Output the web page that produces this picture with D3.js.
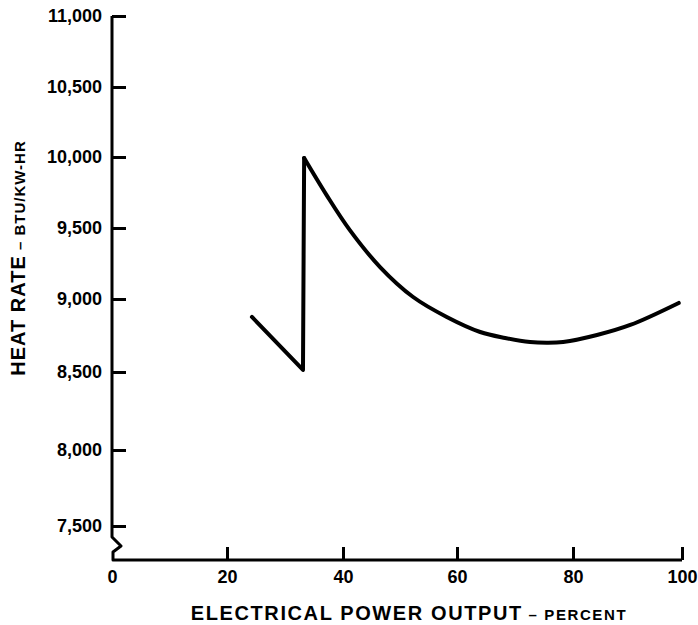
<!DOCTYPE html>
<html>
<head>
<meta charset="utf-8">
<script src="https://cdn.jsdelivr.net/npm/d3@7"></script>
<style>
  body { margin: 0; background: #fff; }
  svg text { font-family: "Liberation Sans", Arial, sans-serif; font-weight: bold; fill: #000; }
</style>
</head>
<body>
<div id="chart"></div>
<script>
// heat rate vs electrical power output
var powerPct = [24.3, 33.1, 33.3, 37.2, 41.2, 46.5, 52.3, 58.2, 64.0, 68.3, 72.6, 75.5, 78.3, 84.4, 90.5, 99.4];
var heatRate = [8877, 8514, 9993, 9730, 9485, 9225, 9014, 8877, 8774, 8733, 8705, 8700, 8705, 8753, 8822, 8973];
// first three points = straight low-load leg and the jump, the rest is the smooth curve
var peakIndex = 2;

var xTicks = [0, 20, 40, 60, 80, 100];
var yTicks = [7500, 8000, 8500, 9000, 9500, 10000, 10500, 11000];

var width = 698, height = 625;

var svg = d3.select('#chart')
  .append('svg')
    .attr('width', width)
    .attr('height', height);

// the scanned grid is not quite even, so each tick gets its own stop
var x = d3.scaleLinear().domain(xTicks).range([112, 227, 343, 457, 573, 682]);
var y = d3.scaleLinear().domain(yTicks).range([526, 450, 372, 299, 228, 157, 87, 16]);
var axisY = 560; // x axis sits below the axis break

// y axis ticks + labels
var yAxis = svg.append('g')
  .attr('transform', 'translate(' + x(0) + ',0)')
  .call(d3.axisLeft(y)
    .tickValues(yTicks)
    .tickFormat(d3.format(','))
    .tickSizeInner(-14)
    .tickSizeOuter(0)
    .tickPadding(10));
yAxis.select('.domain').remove();
yAxis.selectAll('line').attr('stroke', '#000').attr('stroke-width', 3);
yAxis.selectAll('text').style('font-size', '18px');

// x axis ticks + labels
var xAxis = svg.append('g')
  .attr('transform', 'translate(0,' + axisY + ')')
  .call(d3.axisBottom(x)
    .tickValues(xTicks)
    .tickSizeInner(-13)
    .tickSizeOuter(0)
    .tickPadding(10));
xAxis.select('.domain').remove();
xAxis.selectAll('line').attr('stroke', '#000').attr('stroke-width', 3);
xAxis.selectAll('.tick').filter(function(d) { return d === 0; }).select('line').remove();
xAxis.selectAll('text').style('font-size', '18px');

// axis frame with the zigzag break at the bottom of the y axis
var x0 = x(0), breakTop = axisY - 23;
var frame = d3.path();
frame.moveTo(x0, y(11000));
frame.lineTo(x0, breakTop);
frame.lineTo(x0 + 9, breakTop + 9);
frame.lineTo(x0 + 1, breakTop + 15);
frame.lineTo(x0 + 1, axisY);
frame.lineTo(x(100), axisY);
svg.append('path')
  .attr('d', frame.toString())
  .attr('fill', 'none')
  .attr('stroke', '#000')
  .attr('stroke-width', 3)
  .attr('stroke-linejoin', 'round');

// the curve
var pts = powerPct.map(function(p, i) { return [p, heatRate[i]]; });

var straight = d3.line()
  .x(function(d) { return x(d[0]); })
  .y(function(d) { return y(d[1]); });
var smooth = d3.line()
  .x(function(d) { return x(d[0]); })
  .y(function(d) { return y(d[1]); })
  .curve(d3.curveCatmullRom.alpha(0.5));

svg.append('path')
  .attr('d', straight(pts.slice(0, peakIndex + 1)))
  .attr('fill', 'none')
  .attr('stroke', '#000')
  .attr('stroke-width', 4)
  .attr('stroke-linejoin', 'round')
  .attr('stroke-linecap', 'round');
svg.append('path')
  .attr('d', smooth(pts.slice(peakIndex)))
  .attr('fill', 'none')
  .attr('stroke', '#000')
  .attr('stroke-width', 4)
  .attr('stroke-linecap', 'round');

// axis titles
var xTitle = svg.append('text')
  .attr('x', 409)
  .attr('y', 620)
  .attr('text-anchor', 'middle')
  .style('letter-spacing', '1.6px');
xTitle.append('tspan').style('font-size', '20px').text('ELECTRICAL POWER OUTPUT');
xTitle.append('tspan').style('font-size', '15px').text('  \u2013 PERCENT');

var yTitle = svg.append('text')
  .attr('transform', 'translate(25,258) rotate(-90)')
  .attr('text-anchor', 'middle')
  .style('letter-spacing', '1px');
yTitle.append('tspan').style('font-size', '20px').text('HEAT RATE');
yTitle.append('tspan').style('font-size', '15px').text(' \u2013 BTU/KW-HR');
</script>
</body>
</html>
